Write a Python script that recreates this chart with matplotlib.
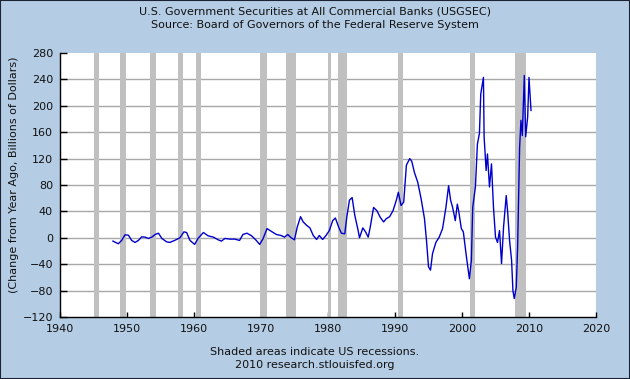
import matplotlib
matplotlib.use("Agg")
import matplotlib.pyplot as plt

# change from year ago, billions of dollars
years = [
    1947.9, 1948.7, 1949.2, 1949.7, 1950.2, 1950.7, 1951.2, 1951.7, 1952.2, 1952.7,
    1953.2, 1953.7, 1954.2, 1954.7, 1955.2, 1955.9, 1956.4, 1957.1, 1957.9, 1958.5,
    1958.9, 1959.4, 1960.1, 1960.6, 1961.4, 1962.1, 1962.9, 1963.6, 1964.1, 1964.6,
    1965.4, 1966.1, 1966.8, 1967.3, 1967.9, 1968.6, 1969.3, 1969.8, 1970.3, 1970.9,
    1971.5, 1972.3, 1973.0, 1973.5, 1974.0, 1974.5, 1975.0, 1975.4, 1975.9, 1976.3,
    1976.8, 1977.3, 1977.8, 1978.3, 1978.7, 1979.2, 1979.7, 1980.2, 1980.7, 1981.1,
    1981.6, 1982.0, 1982.5, 1982.8, 1983.2, 1983.6, 1984.0, 1984.5, 1984.7, 1985.2,
    1985.6, 1986.0, 1986.3, 1986.8, 1987.3, 1987.8, 1988.3, 1988.7, 1989.2, 1989.7,
    1990.2, 1990.5, 1990.9, 1991.3, 1991.7, 1992.2, 1992.5, 1992.9, 1993.4, 1993.9,
    1994.4, 1994.7, 1995.0, 1995.3, 1995.6, 1996.1, 1996.6, 1997.1, 1997.6, 1998.0,
    1998.3, 1998.6, 1999.0, 1999.3, 1999.5, 1999.9, 2000.2, 2000.6, 2001.0, 2001.1,
    2001.4, 2001.6, 2002.0, 2002.3, 2002.6, 2002.8, 2003.2, 2003.3, 2003.6, 2003.8,
    2004.1, 2004.4, 2004.7, 2005.0, 2005.3, 2005.6, 2005.9, 2006.2, 2006.6, 2006.8,
    2007.1, 2007.4, 2007.6, 2007.8, 2008.1, 2008.3, 2008.6, 2008.8, 2009.0, 2009.3,
    2009.5, 2009.8, 2010.0, 2010.3,
]
values = [
    -5, -9, -4, 4.5, 4, -4, -7, -4, 1.5, 1,
    -1, 1, 5, 7, -1, -6, -7, -4, 0, 9,
    8, -4, -10, -1, 8, 3, 1, -3, -5, -1,
    -2, -2, -4, 5, 7, 3, -4, -10, -1.5, 14,
    10, 5, 3.5, 1, 5, 0, -3, 16, 32, 24,
    19, 15, 3.5, -2.5, 3.5, -2.5, 3.5, 11, 26, 30,
    16, 7, 6, 31, 57, 61, 34, 11, 0, 15,
    9, 1, 16, 46, 41, 31, 24, 29, 32, 41,
    57, 69, 49, 54, 110, 120, 116, 99, 84, 59,
    29, -4, -44, -49, -24, -7, 1, 14, 46, 79,
    57, 46, 26, 51, 41, 14, 9, -24, -55, -62,
    -34, 46, 77, 142, 158, 218, 243, 153, 102, 127,
    77, 112, 46, 1, -7, 11, -39, 16, 64, 41,
    -4, -34, -80, -92, -75, -14, 137, 178, 155, 246,
    153, 183, 243, 193,
]

# NBER recessions (start, end) in decimal years
rec_start = [1945.1, 1948.9, 1953.5, 1957.6, 1960.3, 1969.9, 1973.8, 1980.0, 1981.5, 1990.5, 2001.2, 2007.9]
rec_end = [1945.8, 1949.8, 1954.4, 1958.3, 1961.1, 1970.9, 1975.2, 1980.5, 1982.9, 1991.2, 2001.9, 2009.5]

x_ticks = list(range(1940, 2021, 10))
y_ticks = list(range(-120, 281, 40))

bg = "#b4cce4"
txt = "#111111"

fig = plt.figure(figsize=(6.3, 3.79), dpi=100, facecolor=bg)
ax = fig.add_axes((60 / 630, 62 / 379, 536 / 630, 264 / 379))
ax.set_facecolor("white")

for y in y_ticks[1:-1]:
    ax.axhline(y, color="#a8a8a8", lw=1, zorder=1)
for s, e in zip(rec_start, rec_end):
    ax.axvspan(s, e, color="#c0c0c0", lw=0, zorder=2)

ax.plot(years, values, color="#0000cc", lw=1, zorder=3)

ax.set_xlim(1940, 2020)
ax.set_ylim(-120, 280)
ax.set_xticks(x_ticks)
ax.set_yticks(y_ticks)
ax.tick_params(direction="in", length=4, width=1, colors="black", labelcolor=txt,
               labelsize=8)
ax.tick_params(axis="x", pad=5, length=3.5)
ax.tick_params(axis="y", pad=5, length=5)
for side in ("top", "right"):
    ax.spines[side].set_visible(False)
for side in ("left", "bottom"):
    ax.spines[side].set_color("black")
    ax.spines[side].set_linewidth(1)

ax.set_ylabel("(Change from Year Ago, Billions of Dollars)", fontsize=8, color=txt)
ax.yaxis.set_label_coords(-41 / 536, 0.54)

fig.text(0.5, 1 - 12 / 379, "U.S. Government Securities at All Commercial Banks (USGSEC)",
         ha="center", va="center", fontsize=8, color=txt)
fig.text(0.5, 1 - 25 / 379, "Source: Board of Governors of the Federal Reserve System",
         ha="center", va="center", fontsize=8, color=txt)
fig.text(0.5, 1 - 352 / 379, "Shaded areas indicate US recessions.",
         ha="center", va="center", fontsize=8, color=txt)
fig.text(0.5, 1 - 365 / 379, "2010 research.stlouisfed.org",
         ha="center", va="center", fontsize=8, color=txt)

# thin dark frame round the whole picture
fig.patches.append(plt.Rectangle((0, 0), 1, 1, transform=fig.transFigure,
                                 fill=False, edgecolor="#1a2233", lw=1.5))

fig.savefig("out.png", dpi=100, facecolor=bg)
